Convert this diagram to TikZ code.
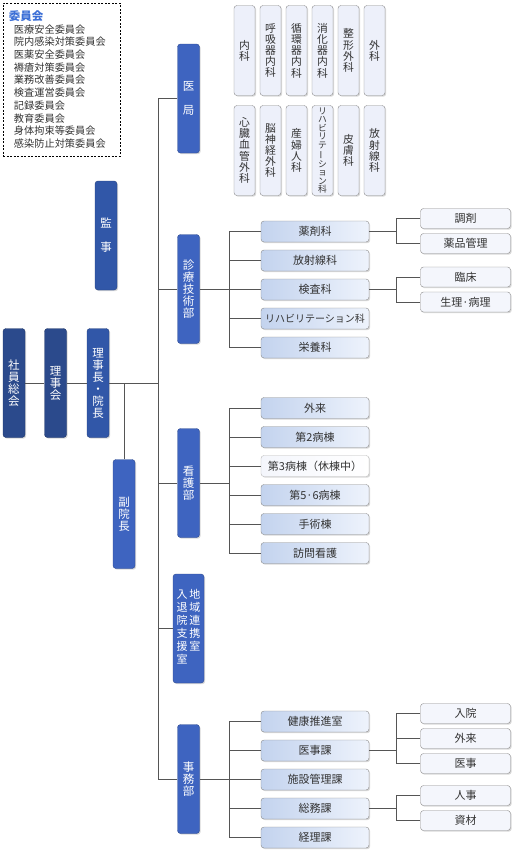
\documentclass[tikz,border=0pt]{standalone}
\usepackage{fontspec}
\setmainfont{Noto Sans CJK JP}
\usetikzlibrary{shadows}

\definecolor{navy}{HTML}{2B4A8C}
\definecolor{royal}{HTML}{3157A8}
\definecolor{dept}{HTML}{3E64C0}
\definecolor{subL}{HTML}{C3D3EE}
\definecolor{subR}{HTML}{EEF3FC}
\definecolor{leaf}{HTML}{F4F6FC}
\definecolor{clinic}{HTML}{EDF0FA}
\definecolor{edge}{HTML}{8A8A8A}
\definecolor{wire}{HTML}{555555}
\definecolor{ttl}{HTML}{3C6FD6}
\definecolor{ink}{HTML}{333333}

\tikzset{
  softshadow/.style={drop shadow={shadow xshift=1.2pt,shadow yshift=-1.2pt,opacity=.3}},
  exec/.style={softshadow, rounded corners=3pt, draw=#1!75!black, fill=#1, text=white,
    minimum width=22pt, minimum height=109pt, inner sep=0pt, align=center,
    font=\fontsize{11.5}{12}\selectfont},
  sect/.style={softshadow, rounded corners=3pt, draw=edge, left color=subL, right color=subR,
    text=ink, minimum width=108pt, minimum height=21pt, inner sep=0pt,
    font=\fontsize{11}{12}\selectfont},
  sectsm/.style={sect, font=\fontsize{10}{12}\selectfont},
  sectoff/.style={sect, draw=edge!60, left color=leaf, right color=white},
  unit/.style={softshadow, rounded corners=3pt, draw=edge, fill=leaf, text=ink,
    minimum width=90pt, minimum height=20pt, inner sep=0pt, font=\fontsize{11}{12}\selectfont},
  clin/.style={softshadow, rounded corners=3pt, draw=edge, fill=clinic, text=ink,
    minimum width=21pt, minimum height=90pt, inner sep=0pt, align=center,
    font=\fontsize{10.8}{11.2}\selectfont},
  clinsm/.style={clin, font=\fontsize{8.8}{8.5}\selectfont},
  iinkaibox/.style={draw=black, dash pattern=on 2pt off 1.5pt, line width=.8pt,
    minimum width=117pt, minimum height=153pt, text width=105pt, inner xsep=6pt,
    align=left, text=ink, font=\fontsize{10.2}{12.7}\selectfont},
  link/.style={draw=wire, line width=.9pt}
}

\begin{document}
\begin{tikzpicture}[x=1pt,y=-1pt]
\useasboundingbox (0,0) rectangle (520,860);

% committees
\node[iinkaibox] (iinkai) at (61.5,79.5) {{\fontsize{11.5}{13}\selectfont\bfseries\color{ttl}委員会}\\[0pt]
  \hspace*{5pt}医療安全委員会\\
  \hspace*{5pt}院内感染対策委員会\\
  \hspace*{5pt}医薬安全委員会\\
  \hspace*{5pt}褥瘡対策委員会\\
  \hspace*{5pt}業務改善委員会\\
  \hspace*{5pt}検査運営委員会\\
  \hspace*{5pt}記録委員会\\
  \hspace*{5pt}教育委員会\\
  \hspace*{5pt}身体拘束等委員会\\
  \hspace*{5pt}感染防止対策委員会};

% clinical departments of the medical office
\node[clin] (ka1) at (244.5,50.5) {内\\科};
\node[clin] (ka2) at (270.5,50.5) {呼\\吸\\器\\内\\科};
\node[clin] (ka3) at (296.5,50.5) {循\\環\\器\\内\\科};
\node[clin] (ka4) at (322.5,50.5) {消\\化\\器\\内\\科};
\node[clin] (ka5) at (348.5,50.5) {整\\形\\外\\科};
\node[clin] (ka6) at (374.5,50.5) {外\\科};
\node[clin] (kb1) at (244.5,150.5) {心\\臓\\血\\管\\外\\科};
\node[clin] (kb2) at (270.5,150.5) {脳\\神\\経\\外\\科};
\node[clin] (kb3) at (296.5,150.5) {産\\婦\\人\\科};
\node[clinsm] (kb4) at (322.5,150.5) {リ\\ハ\\ビ\\リ\\テ\\\rotatebox[origin=c]{90}{ー}\\シ\\ョ\\ン\\科};
\node[clin] (kb5) at (348.5,150.5) {皮\\膚\\科};
\node[clin] (kb6) at (374.5,150.5) {放\\射\\線\\科};

% board and executives
\node[exec=navy] (shain) at (14,383) {社\\員\\総\\会};
\node[exec=navy] (rijikai) at (55.5,383) {理\\事\\会};
\node[exec=royal] (ricyo) at (98,383) {理\\事\\長\\・\\院\\長};
\node[exec=royal] (kanji) at (106,235.5) {監\\[12pt]事};
\node[exec=dept] (fukuin) at (124,514) {副\\院\\長};

% departments
\node[exec=dept] (ikyoku) at (188.5,98.5) {医\\[12pt]局};
\node[exec=dept] (shinryo) at (188.5,289) {診\\療\\技\\術\\部};
\node[exec=dept] (kango) at (188.5,483) {看\\護\\部};
\node[exec=dept, minimum width=31pt, font=\fontsize{11}{12.5}\selectfont] (chiiki) at (188.5,628.5)
  {\begin{tabular}{@{}c@{\hspace{2pt}}c@{}}入&地\\退&域\\院&連\\支&携\\援&室\\室&\end{tabular}};
\node[exec=dept] (jimu) at (188.5,779) {事\\務\\部};

% sections
\foreach \txt/\sty [count=\i] in {薬剤科/sect,放射線科/sect,検査科/sect,リハビリテーション科/sectsm,栄養科/sect}
  \node[\sty] (gi\i) at (315,{231.5+29*(\i-1)}) {\txt};
\foreach \txt/\sty [count=\i] in {外来/sect,第2病棟/sect,第3病棟（休棟中）/sectoff,第5·6病棟/sect,手術棟/sect,訪問看護/sect}
  \node[\sty] (kg\i) at (315,{408+29*(\i-1)}) {\txt};
\foreach \txt [count=\i] in {健康推進室,医事課,施設管理課,総務課,経理課}
  \node[sect] (jm\i) at (315,{721.5+29*(\i-1)}) {\txt};

% units
\node[unit] (chozai) at (465.5,218.5) {調剤};
\node[unit] (yakuhin) at (465.5,243.5) {薬品管理};
\node[unit] (rinsho) at (465.5,277) {臨床};
\node[unit] (seiri) at (465.5,302) {生理·病理};
\node[unit] (nyuin) at (465.5,713.5) {入院};
\node[unit] (gairai) at (465.5,738.5) {外来};
\node[unit] (iji) at (465.5,763.5) {医事};
\node[unit] (jinji) at (465.5,795.5) {人事};
\node[unit] (shizai) at (465.5,820.5) {資材};

% connectors
\coordinate (trunkTop) at (158,98.5);
\coordinate (trunkBot) at (158,779);
\draw[link] (trunkTop) -- (trunkBot);
\draw[link] (shain) -- (rijikai);
\draw[link] (rijikai) -- (ricyo);
\draw[link] (ricyo.east) -- (ricyo.east -| trunkTop);
\draw[link] (fukuin.north) -- (fukuin.north |- ricyo.east);
\foreach \d in {ikyoku,shinryo,kango,chiiki,jimu}
  \draw[link] (\d.west) -- (\d.west -| trunkTop);

\foreach \i in {1,...,5} \draw[link] (gi\i.west) -- ++(-31,0) |- (shinryo.east);
\foreach \i in {1,...,6} \draw[link] (kg\i.west) -- ++(-31,0) |- (kango.east);
\foreach \i in {1,...,5} \draw[link] (jm\i.west) -- ++(-31,0) |- (jimu.east);

\foreach \u in {chozai,yakuhin} \draw[link] (\u.west) -- ++(-24,0) |- (gi1.east);
\foreach \u in {rinsho,seiri} \draw[link] (\u.west) -- ++(-24,0) |- (gi3.east);
\foreach \u in {nyuin,gairai,iji} \draw[link] (\u.west) -- ++(-24,0) |- (jm2.east);
\foreach \u in {jinji,shizai} \draw[link] (\u.west) -- ++(-24,0) |- (jm4.east);
\end{tikzpicture}
\end{document}
